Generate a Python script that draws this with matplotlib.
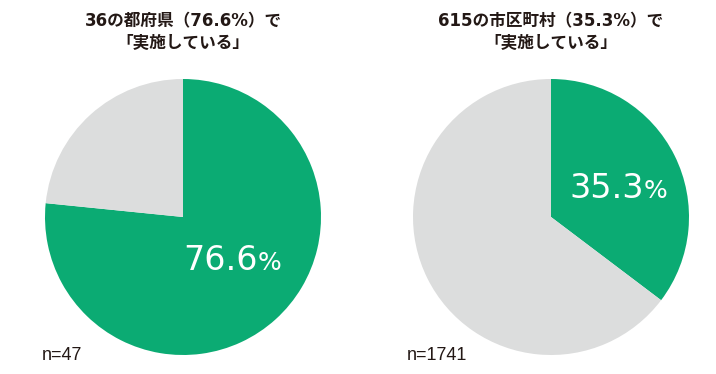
import matplotlib
matplotlib.use("Agg")
import matplotlib.pyplot as plt

# data
title_lines = [
    ["36の都府県（76.6%）で", "「実施している」"],
    ["615の市区町村（35.3%）で", "「実施している」"],
]
shares = [76.6, 35.3]
counts = ["n=47", "n=1741"]

GREEN = "#0bab73"
GRAY = "#dcdddd"
TEXT = "#231815"
JP = ["DejaVu Sans", "Noto Sans CJK JP"]

fig = plt.figure(figsize=(7.16, 3.74), dpi=100)
W, H = 716, 374
R = 138

centers = [(183, 217), (551, 217)]
# big percentage: (digits right edge, % left edge, baseline) in data coords, radius = 1
label_pos = [(0.545, 0.54, -0.384), (0.675, 0.672, 0.138)]
n_pos = [42, 407]

for i, share in enumerate(shares):
    cx, cy = centers[i]
    ax = fig.add_axes([(cx - R) / W, (H - cy - R) / H, 2 * R / W, 2 * R / H])
    ax.pie([share, 100 - share], colors=[GREEN, GRAY], startangle=90,
           counterclock=False, radius=1, wedgeprops=dict(linewidth=0))
    ax.set_xlim(-1, 1)
    ax.set_ylim(-1, 1)
    ax.set_aspect("auto")
    ax.axis("off")

    dx, px, by = label_pos[i]
    ax.text(dx, by, f"{share:.1f}", color="white", fontsize=24,
            family="DejaVu Sans", ha="right", va="baseline")
    ax.text(px, by, "%", color="white", fontsize=18,
            family="DejaVu Sans", ha="left", va="baseline")

    for j, line in enumerate(title_lines[i]):
        fig.text(cx / W, 1 - (21 + 22 * j) / H, line, ha="center", va="center",
                 fontsize=12, fontweight="bold", color=TEXT, family=JP)
    fig.text(n_pos[i] / W, 1 - 360 / H, counts[i], ha="left", va="baseline",
             fontsize=13, color=TEXT, family="Liberation Sans")

fig.savefig("out.png", dpi=100)
